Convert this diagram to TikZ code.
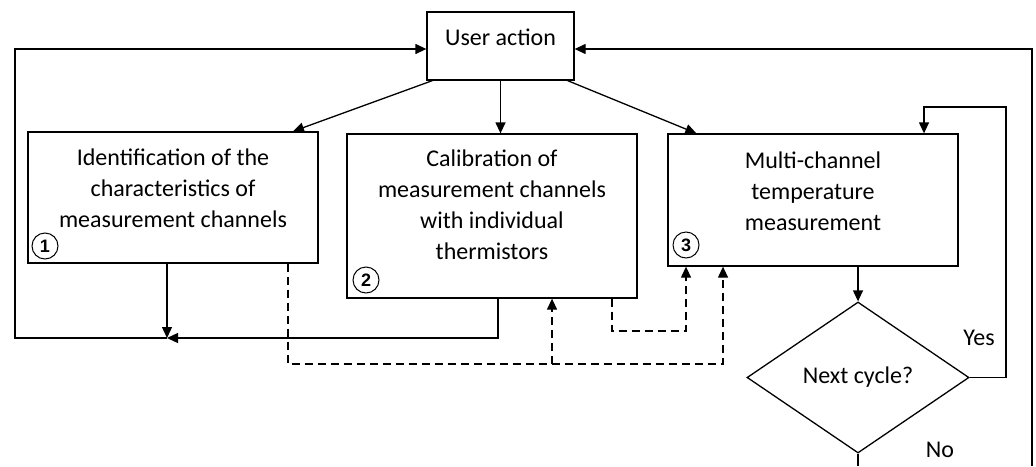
\documentclass[tikz,border=0pt]{standalone}
\usepackage{fontspec}
\setmainfont{Carlito}
\newfontfamily\numfont{Liberation Sans}
\usetikzlibrary{arrows.meta,shapes.geometric}

\begin{document}
\begin{tikzpicture}[x=0.5pt,y=-0.5pt,
        every node/.style={font=\fontsize{12}{15.5}\selectfont},
        box/.style={draw, line width=0.65pt, inner sep=0pt, minimum width=145pt},
        txt/.style={align=center, inner sep=0pt},
        num/.style={draw, circle, line width=0.5pt, inner sep=0pt, minimum size=13pt,
            font=\numfont\bfseries\fontsize{9}{9}\selectfont},
        arr/.style={line width=0.65pt, -{Triangle[length=5.5pt,width=5pt]}},
        dasharr/.style={arr, dash pattern=on 4pt off 2.5pt}]

        \useasboundingbox (0,0) rectangle (1036,466);

        % boxes
        \node[box, minimum width=73.5pt, minimum height=34pt] (user) at (500.5,46) {};
        \node[txt] (usertext) at (500.5,37) {User action};

        \node[box, minimum height=65.5pt] (ident) at (173,197.5) {};
        \node[txt] (identtext) at (173,188) {Identification of the\\characteristics of\\measurement channels};
        \node[num] (n1) at (45,246) {1};

        \node[box, minimum height=82pt] (calib) at (492,216) {};
        \node[txt] (calibtext) at (492,205) {Calibration of\\measurement channels\\with individual\\thermistors};
        \node[num] (n2) at (366,280) {2};

        \node[box, minimum height=66pt] (meas) at (813,200) {};
        \node[txt] (meastext) at (813,191) {Multi-channel\\temperature\\measurement};
        \node[num] (n3) at (686,245) {3};

        \node[draw, diamond, line width=0.65pt, inner sep=0pt, minimum width=111pt, minimum height=75.5pt] (dec) at (858,377.5) {Next cycle?};

        \node (yes) at (979,338) {Yes};
        \node (no) at (940,450) {No};

        \coordinate (join) at (167,338);
        \coordinate (leftx) at (15,338);
        \coordinate (rightend) at (1032,466);
        \coordinate (yesr) at (1006,107);
        \coordinate (noend) at (858,466);
        \coordinate (d1) at (723,364);
        \coordinate (d2) at (552,364);
        \coordinate (d3) at (686,331);

        % solid arrows
        \draw[arr] ([xshift=3pt]user.south west) -- ([xshift=60pt]ident.north);
        \draw[arr] (user.south) -- (user.south |- calib.north);
        \draw[arr] ([xshift=-3.5pt]user.south east) -- ([xshift=14.5pt]meas.north west);

        \draw[arr] ([xshift=-3pt]ident.south) -- (join);
        \draw[arr] ([xshift=3pt]calib.south) |- (join);
        \draw[arr] (join) -- (leftx) |- ([yshift=-1.5pt]user.west);
        \draw[arr] (rightend) |- ([yshift=-1.5pt]user.east);

        \draw[arr] (dec.north |- meas.south) -- (dec.north);
        \draw[arr] (dec.east) -| (yesr) -| ([xshift=55.5pt]meas.north);
        \draw[line width=0.65pt] (dec.south) -- (noend);

        % dashed arrows
        \draw[dasharr] ([xshift=57.5pt]ident.south) |- (d1) -- (d1 |- meas.south);
        \draw[dasharr] (d2) -- (d2 |- calib.south);
        \draw[dasharr] ([xshift=60pt]calib.south) |- (d3) -- (d3 |- meas.south);

\end{tikzpicture}
\end{document}
